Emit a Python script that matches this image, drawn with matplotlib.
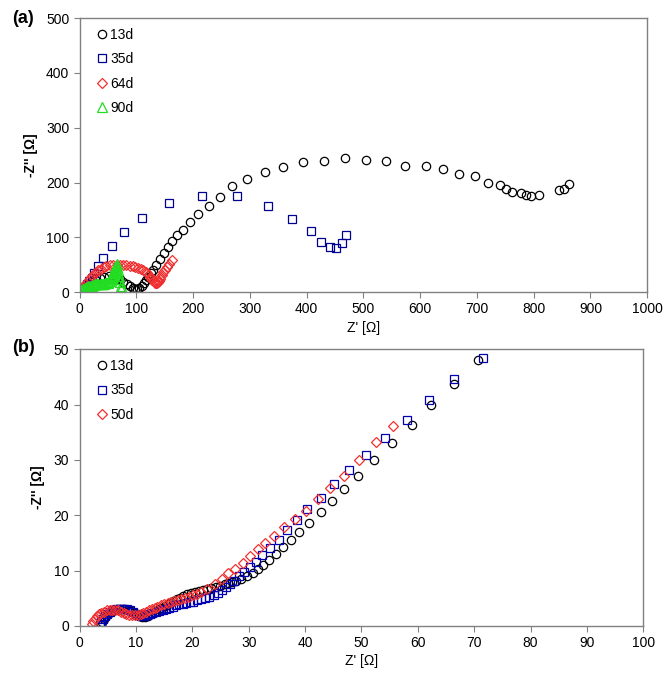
import matplotlib
matplotlib.use("Agg")
import matplotlib.pyplot as plt

plt.rcParams['font.family'] = ['Liberation Sans', 'DejaVu Sans']

# ---- panel (a) data: Z' , -Z'' in ohm ----
a13_x = [2, 5, 9, 14, 20, 27, 35, 43, 51, 58, 65, 71, 77, 83, 88, 93, 97, 101, 105, 109,
         113, 117, 121, 125, 129, 135, 141, 148, 156, 163, 172, 182, 194, 209, 227, 247,
         269, 295, 327, 359, 394, 431, 468, 504, 539, 573, 611, 641, 669, 697, 720, 741,
         752, 762, 778, 787, 795, 810, 844, 854, 863]
a13_y = [1, 5, 10, 15, 19, 23, 26, 28, 29, 28, 26, 23, 19, 15, 11, 7, 5, 5, 8, 12,
         17, 22, 28, 34, 40, 50, 60, 72, 83, 94, 104, 114, 128, 143, 158, 173,
         193, 207, 220, 229, 237, 240, 244, 242, 240, 231, 231, 224, 215, 211, 200, 195,
         189, 182, 180, 178, 175, 178, 186, 189, 198]

a35_x = [3, 8, 13, 17, 21, 25, 32, 41, 56, 78, 109, 158, 216, 277, 332, 374, 407, 426,
         441, 452, 463, 470]
a35_y = [2, 8, 14, 20, 26, 35, 47, 63, 84, 109, 136, 162, 175, 175, 158, 133, 111, 92,
         83, 81, 89, 105]

a64_x = [3, 5, 8, 10, 14, 18, 22, 25, 29, 33, 37, 42, 47, 53, 59, 65, 71, 76, 82, 88,
         93, 98, 103, 108, 112, 116, 119, 122, 124, 126, 128, 130, 132, 133, 135, 136,
         138, 139, 141, 142, 145, 147, 150, 154, 158, 162]
a64_y = [2, 5, 10, 15, 20, 25, 29, 33, 37, 40, 43, 46, 48, 50, 50, 50, 50, 50, 49, 48,
         47, 46, 44, 42, 40, 37, 34, 31, 28, 25, 22, 20, 18, 17, 16, 17,
         18, 21, 24, 27, 31, 36, 41, 46, 52, 58]

a90_x = [1, 2, 3, 5, 6, 8, 9, 11, 12, 14, 15, 17, 19, 21, 23, 25, 27, 29, 31, 33, 35,
         37, 39, 41, 43, 45, 47, 49, 50, 52, 53, 54, 55, 56, 57, 58, 59, 60, 61, 62,
         63, 64, 65, 66, 67, 68, 69, 70, 71, 72, 73]
a90_y = [1, 2, 3, 4, 5, 6, 7, 8, 9, 9, 10, 11, 12, 12, 13, 13, 14, 14, 14, 14, 14,
         14, 14, 15, 15, 16, 16, 17, 18, 20, 21, 23, 25, 27, 29, 31, 34, 36, 39, 42,
         45, 48, 52, 46, 40, 35, 30, 24, 18, 12, 6]

# ---- panel (b) data ----
b13_x = [3.8, 4.0, 4.3, 4.7, 5.1, 5.6, 6.1, 6.6, 7.1, 7.6, 8.1, 8.6, 9.1, 9.6, 10.1,
         10.6, 11.1, 11.6, 12.1, 12.6, 13.1, 13.6, 14.1, 14.6, 15.1, 15.6, 16.1, 16.6,
         17.2, 17.8, 18.4, 19.0, 19.7, 20.4, 21.1, 21.8, 22.5, 23.3, 24.1, 24.9, 25.7,
         26.4, 27.1, 27.8, 28.7, 29.6, 30.7, 31.7, 32.6, 33.6, 34.9, 36.1, 37.5, 38.9,
         40.7, 42.8, 44.8, 46.9, 49.4, 52.3, 55.4, 58.9, 62.3, 66.4, 70.6]
b13_y = [0.2, 0.7, 1.2, 1.7, 2.1, 2.5, 2.8, 3.0, 3.1, 3.1, 3.0, 2.9, 2.7, 2.4, 2.1,
         1.8, 1.6, 1.6, 1.8, 2.1, 2.4, 2.7, 3.0, 3.3, 3.6, 3.9, 4.2, 4.5,
         4.8, 5.1, 5.4, 5.7, 5.9, 6.1, 6.3, 6.4, 6.6, 6.8, 7.0, 7.3, 7.6,
         7.8, 8.0, 8.2, 8.5, 9.0, 9.6, 10.3, 11.0, 12.0, 13.0, 14.3, 15.6, 17.0,
         18.6, 20.5, 22.5, 24.8, 27.1, 29.9, 33.0, 36.4, 39.9, 43.8, 48.0]

b35_x = [3.6, 3.8, 4.1, 4.5, 4.9, 5.4, 5.9, 6.4, 6.9, 7.4, 7.9, 8.4, 8.9, 9.4, 9.9,
         10.4, 10.9, 11.4, 11.9, 12.4, 12.9, 13.5, 14.1, 14.7, 15.3, 15.9, 16.5, 17.1,
         17.7, 18.3, 18.9, 19.5, 20.1, 20.8, 21.5, 22.2, 23.0, 23.8, 24.6, 25.3, 25.9,
         26.6, 27.4, 28.3, 29.2, 30.2, 31.3, 32.3, 33.7, 35.3, 36.8, 38.6, 40.4, 42.8,
         45.2, 47.8, 50.8, 54.2, 58.1, 61.9, 66.4, 71.5]
b35_y = [0.2, 0.7, 1.2, 1.7, 2.1, 2.5, 2.8, 3.0, 3.1, 3.1, 3.1, 3.0, 2.8, 2.5, 2.2,
         1.9, 1.8, 1.8, 1.9, 2.1, 2.3, 2.5, 2.7, 2.9, 3.1, 3.3, 3.5, 3.7,
         3.9, 4.0, 4.2, 4.3, 4.4, 4.6, 4.8, 5.0, 5.2, 5.5, 5.9, 6.4, 7.1,
         7.6, 8.2, 9.0, 9.8, 10.7, 11.6, 12.8, 14.1, 15.6, 17.3, 19.1, 21.1, 23.1,
         25.6, 28.2, 30.9, 34.0, 37.3, 40.8, 44.6, 48.5]

b50_x = [2.2, 2.4, 2.7, 3.0, 3.4, 3.8, 4.3, 4.8, 5.3, 5.8, 6.3, 6.8, 7.3, 7.8, 8.3,
         8.8, 9.3, 9.8, 10.3, 10.8, 11.3, 11.8, 12.3, 12.8, 13.3, 13.8, 14.4, 15.0,
         15.6, 16.2, 16.8, 17.4, 18.0, 18.7, 19.4, 20.1, 20.8, 21.6, 22.5, 24.0, 25.2,
         26.3, 27.5, 29.0, 30.3, 31.7, 32.9, 34.5, 36.2, 38.2, 40.1, 42.3, 44.5, 46.9,
         49.6, 52.6, 55.6]
b50_y = [0.3, 0.8, 1.3, 1.7, 2.1, 2.4, 2.6, 2.8, 2.9, 2.9, 2.9, 2.8, 2.6, 2.4, 2.2,
         2.0, 1.9, 1.9, 2.0, 2.2, 2.4, 2.6, 2.8, 3.0, 3.2, 3.5, 3.7, 3.9,
         4.1, 4.3, 4.5, 4.7, 4.8, 5.0, 5.2, 5.5, 5.8, 6.1, 6.7, 7.6, 8.5,
         9.5, 10.3, 11.4, 12.6, 13.9, 14.9, 16.2, 17.8, 19.3, 20.8, 22.9, 24.9, 27.1,
         29.9, 33.2, 36.2]

SPINE = '#808080'
BLACK = 'black'
NAVY = '#000090'
RED = '#f03030'
GREEN = '#22dd22'


def style_axes(ax, xmax, ymax, xstep, ystep):
    ax.set_xlim(0, xmax)
    ax.set_ylim(0, ymax)
    ax.set_xticks(range(0, xmax + 1, xstep))
    ax.set_yticks(range(0, ymax + 1, ystep))
    for s in ax.spines.values():
        s.set_color(SPINE)
        s.set_linewidth(1.0)
    ax.tick_params(direction='out', length=4, color=SPINE, labelsize=10,
                   top=False, right=False)
    ax.set_xlabel("Z' [\u03a9]", fontsize=10, labelpad=3)
    ax.set_ylabel("-Z'' [\u03a9]", fontsize=10, fontweight='bold', labelpad=6)
    ax.legend(loc='upper left', frameon=False, fontsize=10, handletextpad=0.1,
              labelspacing=0.75, borderaxespad=0.3, handlelength=1.0,
              bbox_to_anchor=(0.01, 1.0))


def pts(ax, x, y, marker, color, label, ms=6):
    ax.plot(x, y, ls='none', marker=marker, mfc='none', mec=color, mew=0.9,
            ms=ms, label=label)


fig = plt.figure(figsize=(6.7, 6.73), dpi=100)

ax1 = fig.add_axes([0.119, 0.566, 0.847, 0.407])
pts(ax1, a13_x, a13_y, 'o', BLACK, '13d')
pts(ax1, a35_x, a35_y, 's', NAVY, '35d', ms=5.5)
pts(ax1, a64_x, a64_y, 'D', RED, '64d', ms=5)
pts(ax1, a90_x, a90_y, '^', GREEN, '90d', ms=6.5)
style_axes(ax1, 1000, 500, 100, 100)
fig.text(0.018, 0.973, '(a)', fontsize=13, fontweight='bold', va='center')

ax2 = fig.add_axes([0.119, 0.070, 0.841, 0.411])
pts(ax2, b13_x, b13_y, 'o', BLACK, '13d')
pts(ax2, b35_x, b35_y, 's', '#0000b0', '35d', ms=5.5)
pts(ax2, b50_x, b50_y, 'D', RED, '50d', ms=5)
style_axes(ax2, 100, 50, 10, 10)
fig.text(0.018, 0.483, '(b)', fontsize=13, fontweight='bold', va='center')

fig.savefig('out.png', dpi=100)
